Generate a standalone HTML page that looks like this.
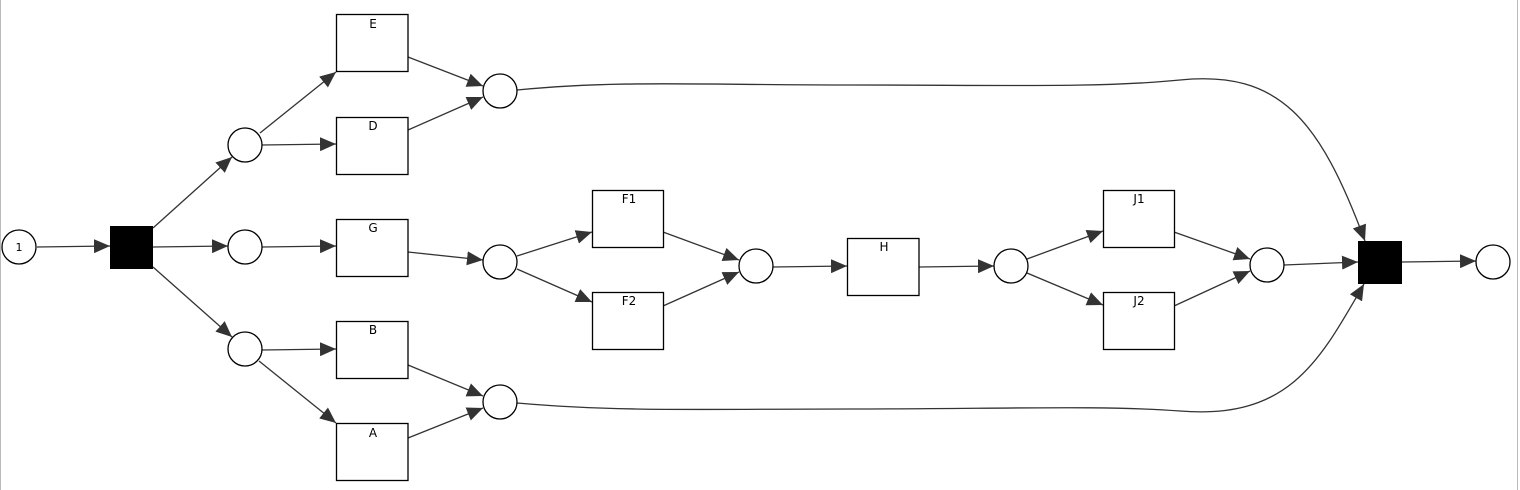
<!DOCTYPE html>
<html><head><meta charset="utf-8"><style>
html,body{margin:0;padding:0;background:#fff;}
svg{display:block;}
text{font-family:"DejaVu Sans","Liberation Sans",sans-serif;font-size:12px;fill:#000;}
</style></head><body>
<svg width="1520" height="490" viewBox="0 0 1520 490" xmlns="http://www.w3.org/2000/svg">
<defs>
<marker id="a" markerWidth="10" markerHeight="10" refX="9" refY="5" orient="auto" markerUnits="userSpaceOnUse" viewBox="0 0 10 10">
<path d="M0,0 L10,5 L0,10 z" fill="#333"/>
</marker>
<marker id="b" markerWidth="16" markerHeight="14" refX="16" refY="7" orient="auto" markerUnits="userSpaceOnUse" viewBox="0 0 16 14">
<path d="M0,0 L16,7 L0,14 z" fill="#333"/>
</marker>
</defs>
<line x1="0.5" y1="0" x2="0.5" y2="490" stroke="#bbb"/>
<line x1="1517.5" y1="0" x2="1517.5" y2="490" stroke="#bbb"/>
<g stroke="#333" stroke-width="1.3" fill="none" marker-end="url(#b)">
<line x1="37" y1="247" x2="110" y2="246"/>
<line x1="153" y1="228" x2="232" y2="157"/>
<line x1="153" y1="247" x2="228" y2="246"/>
<line x1="153" y1="267" x2="232" y2="337"/>
<line x1="260" y1="133" x2="336" y2="72"/>
<line x1="262" y1="145" x2="336" y2="144"/>
<line x1="262" y1="247" x2="336" y2="246"/>
<line x1="262" y1="350" x2="336" y2="349"/>
<line x1="259" y1="361" x2="336" y2="423"/>
<line x1="408" y1="57" x2="483" y2="86"/>
<line x1="408" y1="130" x2="483" y2="97"/>
<line x1="408" y1="252" x2="483" y2="260"/>
<line x1="408" y1="365" x2="483" y2="396"/>
<line x1="408" y1="438" x2="483" y2="408"/>
<line x1="517" y1="256" x2="592" y2="232"/>
<line x1="517" y1="269" x2="592" y2="302"/>
<line x1="663" y1="232" x2="739" y2="260"/>
<line x1="663" y1="306" x2="739" y2="272"/>
<line x1="773" y1="267" x2="847" y2="266"/>
<line x1="919" y1="267" x2="994" y2="266"/>
<line x1="1027" y1="259" x2="1103" y2="231"/>
<line x1="1027" y1="273" x2="1103" y2="305"/>
<line x1="1174" y1="232" x2="1250" y2="259"/>
<line x1="1174" y1="306" x2="1250" y2="271"/>
<line x1="1284" y1="265" x2="1358" y2="262"/>
<line x1="1402" y1="262" x2="1476" y2="261"/>
<path d="M517,90 C620,80 700,85 850,85 C1000,85 1100,88 1180,80 C1280,70 1320,120 1365,241"/>
<path d="M517,403 C620,412 700,409 850,409 C1000,409 1100,405 1180,411 C1290,420 1320,360 1364,284"/>
</g>
<g stroke="#000" stroke-width="1.3" fill="#fff">
<circle cx="19" cy="247" r="17"/>
<circle cx="245" cy="145" r="17"/>
<circle cx="245" cy="247" r="17"/>
<circle cx="245" cy="349" r="17"/>
<circle cx="500" cy="91" r="17"/>
<circle cx="500" cy="262" r="17"/>
<circle cx="500" cy="402" r="17"/>
<circle cx="756" cy="266" r="17"/>
<circle cx="1011" cy="266" r="17"/>
<circle cx="1267" cy="265" r="17"/>
<circle cx="1493" cy="262" r="17"/>
<rect x="336.5" y="14.5" width="71.5" height="57"/>
<rect x="336.5" y="117.5" width="71.5" height="57"/>
<rect x="336.5" y="219.5" width="71.5" height="57"/>
<rect x="336.5" y="321.5" width="71.5" height="57"/>
<rect x="336.5" y="423.5" width="71.5" height="57"/>
<rect x="592.5" y="190.5" width="71" height="57"/>
<rect x="592.5" y="292.5" width="71" height="57"/>
<rect x="847.5" y="238.5" width="71.5" height="57"/>
<rect x="1103.5" y="190.5" width="71" height="57"/>
<rect x="1103.5" y="292.5" width="71" height="57"/>
</g>
<rect x="110" y="226" width="43" height="43" fill="#000"/>
<rect x="1358" y="241" width="44" height="43" fill="#000"/>
<g text-anchor="middle">
<text x="19" y="251" style="font-size:11px">1</text>
<text x="373" y="28">E</text>
<text x="373" y="130">D</text>
<text x="373" y="232">G</text>
<text x="373" y="334">B</text>
<text x="373" y="437">A</text>
<text x="629" y="203">F1</text>
<text x="629" y="305">F2</text>
<text x="884" y="251">H</text>
<text x="1139" y="203">J1</text>
<text x="1139" y="305">J2</text>
</g>
</svg>
</body></html>
